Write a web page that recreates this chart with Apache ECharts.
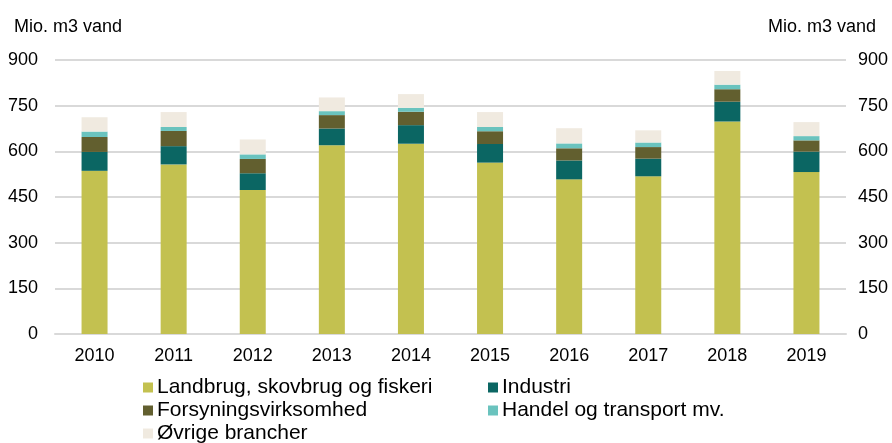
<!DOCTYPE html>
<html>
<head>
<meta charset="utf-8">
<script src="https://cdn.jsdelivr.net/npm/echarts@6/dist/echarts.min.js"></script>
<style>
  html, body { margin: 0; padding: 0; background: #fff; }
  #chart { width: 892px; height: 443px; }
</style>
</head>
<body>
<div id="chart"></div>
<script>
// Water use by sector, million m3
const years = ['2010', '2011', '2012', '2013', '2014', '2015', '2016', '2017', '2018', '2019'];
const landbrug    = [536, 557, 473, 620, 625, 563, 508, 518, 698, 532];
const industri    = [62, 60, 55, 55, 61, 61, 62, 58, 65, 67];
const forsyning   = [49, 50, 47, 44, 44, 42, 40, 38, 41, 37];
const handel      = [18, 13, 15, 13, 13, 14, 16, 15, 15, 14];
const oevrige     = [47, 49, 49, 45, 45, 49, 50, 40, 45, 46];
const yTicks = [0, 150, 300, 450, 600, 750, 900];

const seriesNames = [
  'Landbrug, skovbrug og fiskeri',
  'Industri',
  'Forsyningsvirksomhed',
  'Handel og transport mv.',
  'Øvrige brancher'
];
const seriesData = [landbrug, industri, forsyning, handel, oevrige];
const colors = ['#c3c150', '#0b6663', '#625f2f', '#6ac3be', '#f0eae0'];

const font = 'Liberation Sans, Arial, sans-serif';
const chart = echarts.init(document.getElementById('chart'));

const legendPos = [
  { left: 143, top: 377 },
  { left: 488, top: 377 },
  { left: 143, top: 400 },
  { left: 488, top: 400 },
  { left: 143, top: 423 }
];

const yAxisBase = {
  type: 'value',
  min: yTicks[0],
  max: yTicks[yTicks.length - 1],
  interval: yTicks[1] - yTicks[0],
  axisLine: { show: false },
  axisTick: { show: false },
  axisLabel: { color: '#000', fontFamily: font, fontSize: 18 }
};

chart.setOption({
  animation: false,
  color: colors,
  textStyle: { fontFamily: font },
  title: [
    { text: 'Mio. m3 vand', left: 9, top: 13,
      textStyle: { fontFamily: font, fontSize: 18, fontWeight: 'normal', color: '#000' } },
    { text: 'Mio. m3 vand', right: 11, top: 13,
      textStyle: { fontFamily: font, fontSize: 18, fontWeight: 'normal', color: '#000' } }
  ],
  grid: { left: 55, right: 46, top: 60, bottom: 109 },
  legend: seriesNames.map((n, i) => ({
    data: [n],
    left: legendPos[i].left,
    top: legendPos[i].top,
    padding: 0,
    itemWidth: 10,
    itemHeight: 10,
    icon: 'rect',
    itemGap: 0,
    selectedMode: false,
    textStyle: { fontFamily: font, fontSize: 21, color: '#000', padding: [0, 0, 0, -1] }
  })),
  xAxis: {
    type: 'category',
    data: years,
    axisLine: { lineStyle: { color: '#d9d9d9', width: 2 } },
    axisTick: { show: false },
    axisLabel: { color: '#000', fontFamily: font, fontSize: 18, margin: 13 }
  },
  yAxis: [
    Object.assign({}, yAxisBase, {
      position: 'left',
      axisLabel: Object.assign({}, yAxisBase.axisLabel, { margin: 17 }),
      splitLine: { lineStyle: { color: '#d9d9d9', width: 2 } }
    }),
    Object.assign({}, yAxisBase, {
      position: 'right',
      axisLabel: Object.assign({}, yAxisBase.axisLabel, { margin: 12 }),
      splitLine: { show: false }
    })
  ],
  series: seriesNames.map((n, i) => ({
    name: n,
    type: 'bar',
    stack: 'total',
    barWidth: 26,
    data: seriesData[i],
    itemStyle: { color: colors[i] }
  }))
});
</script>
</body>
</html>
